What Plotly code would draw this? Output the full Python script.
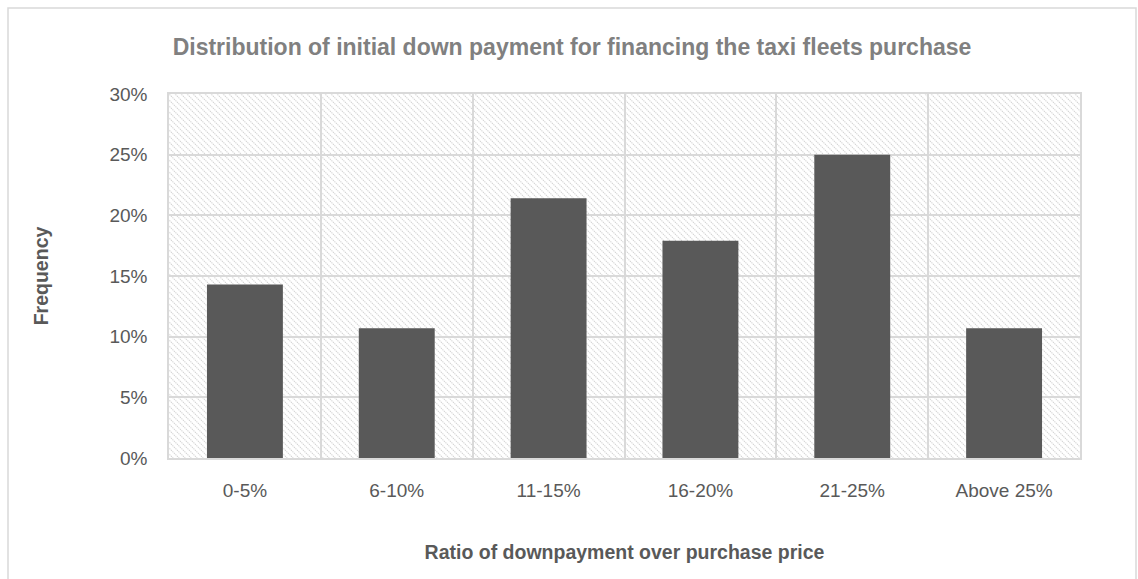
import base64
import plotly.graph_objects as go

categories = ["0-5%", "6-10%", "11-15%", "16-20%", "21-25%", "Above 25%"]
frequency = [0.143, 0.107, 0.214, 0.179, 0.25, 0.107]

title_text = "Distribution of initial down payment for financing the taxi fleets purchase"
x_title = "Ratio of downpayment over purchase price"
y_title = "Frequency"

W, H = 1138, 579
L, R, T, B = 169, 58, 94, 121
PW, PH = W - L - R, H - T - B

FONT = "Liberation Sans, Arial, sans-serif"

# hatch background for the plot area (decorative)
p = 6
svg = (
    f'<svg xmlns="http://www.w3.org/2000/svg" width="{PW}" height="{PH}" viewBox="0 0 {PW} {PH}">'
    f'<defs><pattern id="h" width="{p}" height="{p}" patternUnits="userSpaceOnUse">'
    f'<path d="M-1,-1 L{p+1},{p+1} M{-1},{p-1} L1,{p+1} M{p-1},-1 L{p+1},1" '
    f'stroke="#d4d4d4" stroke-width="1.1" stroke-dasharray="1.3,0.8" fill="none"/></pattern></defs>'
    f'<rect width="{PW}" height="{PH}" fill="white"/>'
    f'<rect width="{PW}" height="{PH}" fill="url(#h)"/></svg>'
)
src = "data:image/svg+xml;base64," + base64.b64encode(svg.encode()).decode()

fig = go.Figure()
fig.add_trace(go.Bar(
    x=categories, y=frequency, width=0.5,
    marker=dict(color="#595959", line=dict(width=0)),
    hoverinfo="x+y",
))

fig.update_layout(
    width=W, height=H,
    margin=dict(l=L, r=R, t=T, b=B),
    paper_bgcolor="white",
    plot_bgcolor="rgba(0,0,0,0)",
    showlegend=False,
    font=dict(family=FONT, color="#595959"),
    title=dict(
        text=f"<b>{title_text}</b>",
        x=572 / W, xanchor="center", xref="container",
        y=1 - 47 / H, yanchor="middle", yref="container",
        font=dict(family=FONT, size=23, color="#808080"),
    ),
    images=[dict(
        source=src, xref="paper", yref="paper", x=0, y=1,
        sizex=1, sizey=1, xanchor="left", yanchor="top",
        sizing="stretch", layer="below",
    )],
    shapes=[dict(
        type="rect", xref="paper", yref="paper",
        x0=(8 - L) / PW, x1=(1136 - L) / PW,
        y0=-(H + 20 - T - PH) / PH, y1=(T + PH - 8) / PH,
        line=dict(color="#d9d9d9", width=1.5), fillcolor="rgba(0,0,0,0)",
        layer="below",
    )],
)

fig.update_xaxes(
    type="category", tickson="boundaries",
    showgrid=True, gridcolor="#d9d9d9", gridwidth=1.5,
    showline=True, linecolor="#d9d9d9", linewidth=1.5, mirror=True,
    ticks="", ticklabelstandoff=14,
    tickfont=dict(family=FONT, size=19, color="#595959"),
    title=dict(text=f"<b>{x_title}</b>", standoff=46,
               font=dict(family=FONT, size=19.5, color="#595959")),
)
fig.update_yaxes(
    range=[0, 0.30], dtick=0.05, tickformat=".0%",
    showgrid=True, gridcolor="#d9d9d9", gridwidth=1.5,
    zeroline=False,
    showline=True, linecolor="#d9d9d9", linewidth=1.5, mirror=True,
    ticks="outside", ticklen=16, tickcolor="rgba(0,0,0,0)",
    tickfont=dict(family=FONT, size=19, color="#595959"),
    title=dict(text=f"<b>{y_title}</b>", standoff=56,
               font=dict(family=FONT, size=19.5, color="#595959")),
)

fig.write_html("out.html", config={"displayModeBar": False},
               post_script="document.body.style.margin='0';")
